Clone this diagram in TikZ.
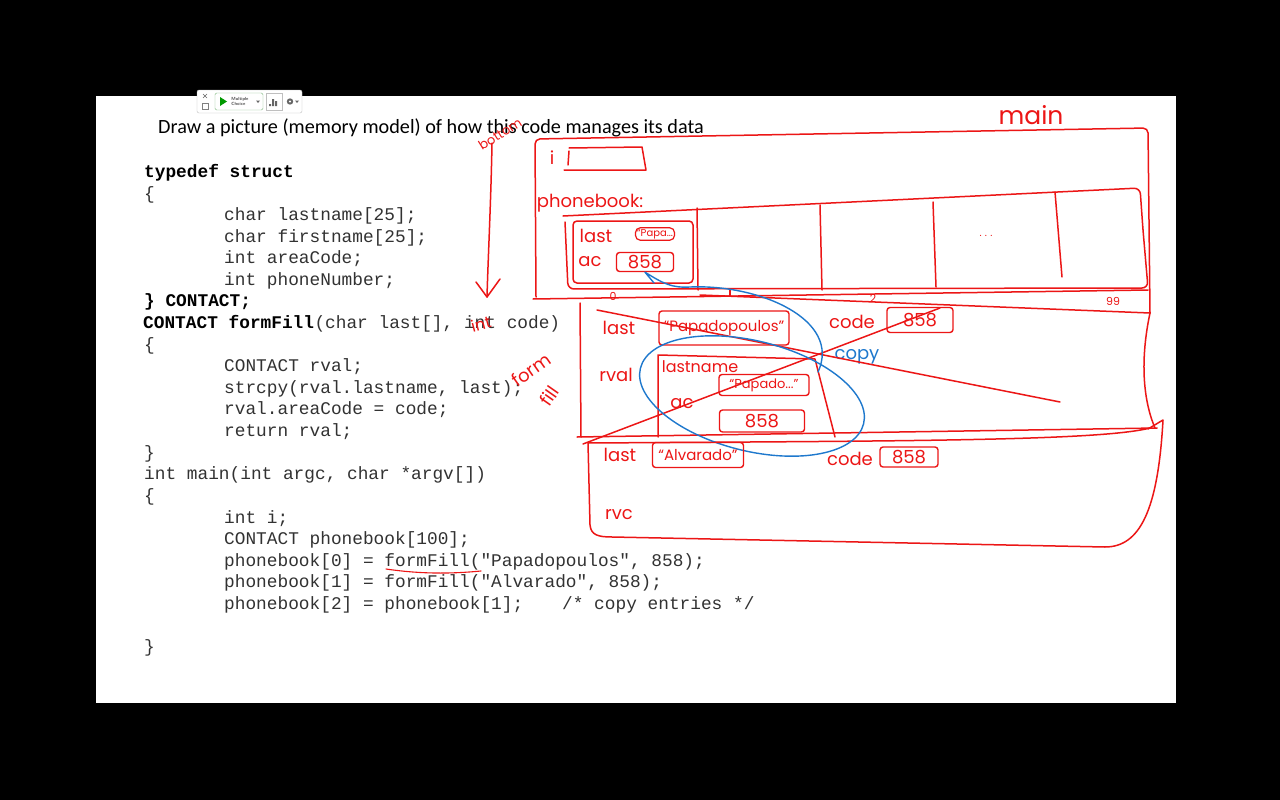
\documentclass[tikz,border=0pt]{standalone}
\usepackage{fontspec}
\setmainfont{Carlito}
\newfontfamily\codefont{Liberation Mono}
\newfontfamily\handfont{Poppins}
\usetikzlibrary{arrows.meta}
\definecolor{ink}{RGB}{236,22,22}
\definecolor{bink}{RGB}{30,120,205}
\definecolor{codegray}{RGB}{50,50,50}
\begin{document}
\begin{tikzpicture}[x=1pt,y=-1pt,
  code/.style={anchor=base west,inner sep=0pt,text=codegray,font=\codefont\fontsize{17.8}{20}\selectfont},
  bcode/.style={code,text=black,font=\codefont\bfseries\fontsize{17.8}{20}\selectfont},
  pen/.style={draw=ink,line width=1.5pt,line cap=round,line join=round},
  thinpen/.style={draw=ink,line width=1.1pt,line cap=round,line join=round},
  bpen/.style={draw=bink,line width=1.4pt,line cap=round,line join=round},
  hand/.style={text=ink,inner sep=0pt,font=\handfont\fontsize{18}{18}\selectfont},
  bhand/.style={hand,text=bink},
  hbox/.style={hand,draw=ink,line width=1.4pt,rounded corners=3pt},
]
% background and slide
\fill[black] (0,0) rectangle (1280,800);
\fill[white] (96,96) rectangle (1176,703);
\useasboundingbox (0,0) rectangle (1280,800);

% toolbar widget
\draw[black!25,fill=white,rounded corners=2pt] (197,90) rectangle (302,113);
\draw[black!60,line width=0.6pt] (203,94) -- (207,98) (207,94) -- (203,98);
\draw[black!50,line width=0.6pt] (202,103) rectangle (208,109);
\draw[green!45!black!50,fill=white,rounded corners=1.5pt] (215,93) rectangle (263,110);
\fill[green!60!black] (220,97) -- (227,101.5) -- (220,106) -- cycle;
\node[font=\sffamily\bfseries\fontsize{4.5}{5}\selectfont,align=left,inner sep=0,text=black!70] (tbtext) at (240,101.5) {Multiple\\Choice};
\fill[black!60] (256,100.5) -- (260,100.5) -- (258,103) -- cycle;
\draw[black!25] (266,93) rectangle (282,110);
\fill[black!60] (269,104) rectangle (271,106) (272,99) rectangle (274,106) (275,101) rectangle (277,106);
\fill[black!60] (290,101.5) circle (3.2);
\fill[white] (290,101.5) circle (1.2);
\fill[black!60] (295,100.5) -- (299,100.5) -- (297,103) -- cycle;

% title
\node[anchor=base west,inner sep=0,font=\fontsize{20.2}{22}\selectfont] (title) at (158,133) {Draw a picture (memory model) of how this code manages its data};

% code
\node[bcode] (c1) at (144,177) {typedef struct};
\node[code] (c2) at (144,199) {\{};
\node[code] (c3) at (224,220) {char lastname[25];};
\node[code] (c4) at (224,242) {char firstname[25];};
\node[code] (c5) at (224,263) {int areaCode;};
\node[code] (c6) at (224,285) {int phoneNumber;};
\node[bcode] (c7) at (144,306) {\} CONTACT;};
\node[bcode] (c8) at (143,328) {CONTACT formFill};
\node[code] (c8b) at (c8.base east) {(char last[], int code)};
\node[code] (c9) at (144,350) {\{};
\node[code] (c10) at (224,371) {CONTACT rval;};
\node[code] (c11) at (224,393) {strcpy(rval.lastname, last);};
\node[code] (c12) at (224,414) {rval.areaCode = code;};
\node[code] (c13) at (224,436) {return rval;};
\node[code] (c14) at (144,458) {\}};
\node[code] (c15) at (144,479) {int main(int argc, char *argv[])};
\node[code] (c16) at (144,501) {\{};
\node[code] (c17) at (224,523) {int i;};
\node[code] (c18) at (224,544) {CONTACT phonebook[100];};
\node[code] (c19) at (224,566) {phonebook[0] = formFill("Papadopoulos", 858);};
\node[code] (c20) at (224,587) {phonebook[1] = formFill("Alvarado", 858);};
\node[code] (c21) at (224,609) {phonebook[2] = phonebook[1];};
\node[code] (c21b) at (562,609) {/* copy entries */};
\node[code] (c23) at (144,652) {\}};

% annotations on code
\node[hand,font=\handfont\fontsize{16}{16}\selectfont,rotate=15] (intfix) at (481,324) {int};
\draw[thinpen] (386,569) .. controls (420,574) and (450,574) .. (481,571);
\node[hand,rotate=35] (formlbl) at (531,370) {form};
\node[hand,rotate=55] (filllbl) at (549,396) {fill};
\node[hand,font=\handfont\fontsize{13}{13}\selectfont,rotate=32] (bottomlbl) at (500,134) {bottom};
\coordinate (arrtop) at (492,143);
\coordinate (arrbot) at (487,297);
\draw[pen] (arrtop) .. controls (491,200) and (488,260) .. (arrbot);
\draw[pen] (476,282) -- (arrbot) -- (500,279);

% main frame
\node[hand,font=\handfont\fontsize{25}{25}\selectfont] (mainlbl) at (1031,115) {main};
\draw[pen,rounded corners=5pt] (536,297) -- (535,139) -- (1148,128) -- (1150,313);
\draw[pen] (533,299) -- (1148,290);

% i
\node[hand] (ilbl) at (552,158) {i};
\draw[pen] (569,148) -- (642,147) -- (646,170) -- (564,170);
\draw[pen] (569,151) -- (568,165);

% phonebook array
\node[hand] (pblbl) at (590,203) {phonebook:};
\draw[pen,rounded corners=6pt] (563,216) -- (1140,188) -- (1143,230) -- (1148,288) -- (568,289) -- (565,222);
\draw[pen] (697,208) -- (698,290);
\draw[pen] (820,205) -- (822,290);
\draw[pen] (933,202) -- (936,287);
\draw[pen] (1055,192) -- (1062,277);
\node[hand,font=\handfont\fontsize{10}{10}\selectfont] (dots) at (986,236) {.\,\,.\,\,.};
\draw[pen,rounded corners=4pt] (573,221) rectangle (693,283);
\node[hand] (c0last) at (596,236) {last};
\node[hbox,line width=1.2pt,rounded corners=5pt,inner sep=1.5pt,font=\handfont\fontsize{10}{10}\selectfont] (c0name) at (655,234) {“Papa...};
\node[hand] (c0ac) at (590,262) {ac};
\node[hbox,minimum width=57pt,minimum height=19pt] (c0code) at (645,262) {858};
\node[hand,font=\handfont\fontsize{11}{11}\selectfont] (idx0) at (613,296) {0};
\node[hand,font=\handfont\fontsize{11}{11}\selectfont] (idx2) at (873,298) {2};
\node[hand,font=\handfont\fontsize{11}{11}\selectfont] (idx99) at (1113,301) {99};
\draw[thinpen] (730,289) -- (730,296);

% formFill frame (first call)
\draw[pen] (580,303) -- (581,437);
\draw[pen] (700,295) -- (1150,313);
\draw[pen] (1150,313) .. controls (1140,360) and (1143,400) .. (1155,428);
\draw[pen] (577,437) -- (1157,428);
\draw[pen] (588,443) .. controls (900,441) and (1100,441) .. (1150,428);
\node[hand] (fflast) at (619,328) {last};
\node[hbox,font=\handfont\fontsize{15}{15}\selectfont,minimum width=130pt,minimum height=34pt] (ffname) at (724,328) {“Papadopoulos”};
\node[hand] (ffcodelbl) at (852,322) {code};
\node[hbox,minimum width=66pt,minimum height=25pt] (ffcode) at (920,320) {858};
\node[bhand] (copylbl) at (857,357) {copy};
\node[hand] (rvallbl) at (616,375) {rval};
\draw[pen] (658,437) -- (658,355) -- (815,359) -- (835,437);
\node[hand,font=\handfont\fontsize{16}{16}\selectfont] (lastnamelbl) at (700,367) {lastname};
\node[hbox,font=\handfont\fontsize{13}{13}\selectfont,minimum width=90pt,minimum height=21pt] (rvname) at (764,385) {“Papado...”};
\node[hand] (rvac) at (682,404) {ac};
\node[hbox,minimum width=85pt,minimum height=22pt] (rvcode) at (762,421) {858};
% crossing-out lines
\draw[pen] (597,310) -- (1060,402);
\draw[pen] (583,444) -- (940,308);
% copy ellipse and arrow
\draw[bpen,rotate around={-14:(752,396)}] (752,396) ellipse [x radius=115, y radius=55];
\draw[bpen] (818,372) .. controls (842,320) and (760,284) .. (690,287) .. controls (672,288) and (664,284) .. (c0code.south) -- (654,283);

% formFill frame (second call)
\draw[pen] (588,443) -- (590,525) .. controls (591,535) and (598,537) .. (612,537) -- (1105,547) .. controls (1140,547) and (1158,510) .. (1163,420) -- (1148,429);
\node[hand] (lolast) at (620,455) {last};
\node[hbox,font=\handfont\fontsize{15}{15}\selectfont,minimum width=91pt,minimum height=25pt] (loname) at (698,455) {“Alvarado”};
\node[hand] (locodelbl) at (850,459) {code};
\node[hbox,minimum width=58pt,minimum height=20pt] (locode) at (909,457) {858};
\node[hand] (lorvc) at (619,515) {rvc};
\end{tikzpicture}
\end{document}
